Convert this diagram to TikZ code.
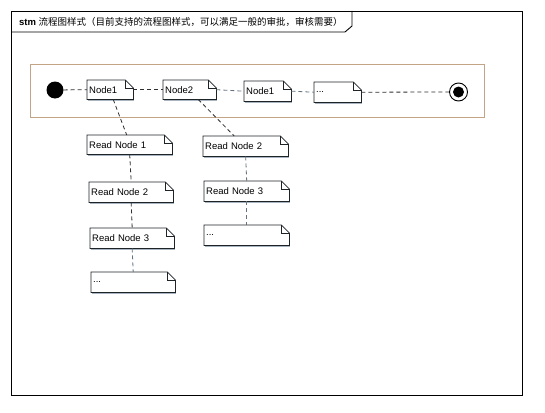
\documentclass[tikz,border=0pt]{standalone}
\usepackage{fontspec}
\setmainfont{Liberation Sans}
\newfontfamily\cjk{Noto Sans CJK SC}
\definecolor{framec}{HTML}{000000}
\definecolor{zonec}{HTML}{C4A486}
\definecolor{notec}{HTML}{1E2328}
\definecolor{shadec}{HTML}{A8B4C0}
\definecolor{darkdash}{HTML}{303030}
\definecolor{lightdash}{HTML}{62727F}
\newcommand\notefont{\fontsize{9.5}{11}\selectfont}
\newcommand\drawnote[1]{%
  \draw[shadec, line width=0.8pt] ([shift={(1pt,-1pt)}]#1.south west) -- ([shift={(1pt,-1pt)}]#1.south east);
  \draw[notec, line width=0.8pt, fill=white] (#1.north west) -- ([xshift=-8pt]#1.north east)
     -- ([yshift=-8pt]#1.north east) -- (#1.south east) -- (#1.south west) -- cycle;
  \draw[notec, line width=0.6pt] ([xshift=-8pt]#1.north east) -- ([xshift=-8pt,yshift=-8pt]#1.north east)
     -- ([yshift=-8pt]#1.north east);
}
\tikzset{
  note/.style 2 args={rectangle, anchor=north west, inner xsep=2pt, inner ysep=0pt,
    minimum width=#1pt, minimum height=#2pt,
    /utils/exec={\pgfmathsetmacro\notetw{#1-4}},
    text width=\notetw pt, align=left, font=\notefont,
    append after command={\pgfextra{\drawnote{\tikzlastnode}}}},
  flow/.style={dashed, dash pattern=on 4pt off 3pt, line width=0.8pt},
  fdark/.style={flow, darkdash},
  flight/.style={flow, lightdash},
}
\begin{document}
\begin{tikzpicture}[x=1pt,y=-1pt]
\useasboundingbox[fill=white] (0,0) rectangle (545,412);
% outer frame
\draw[framec, line width=0.9pt] (11,11) rectangle (522,395);
\draw[framec, line width=0.9pt] (11,32) -- (345,32) -- (352,26) -- (352,11);
\node[anchor=base west, inner sep=0pt, font=\fontsize{9.5}{11}\selectfont] (title) at (19,25.5)
  {\textbf{stm} {\cjk 流程图样式（目前支持的流程图样式，可以满足一般的审批，审核需要）}};
% zone
\draw[zonec, line width=1pt] (30,64) rectangle (484,117);
% states
\node[circle, fill=black, minimum size=17pt, inner sep=0pt] (init) at (55,90) {};
\node[circle, draw=black, line width=0.9pt, fill=white, minimum size=18pt, inner sep=0pt] (final) at (458.5,92) {};
\node[circle, fill=black, minimum size=11pt, inner sep=0pt] (finalin) at (458.5,92) {};
% main nodes
\node[note={46}{19}] (n1) at (87,80) {Node1};
\node[note={53}{19}] (n2) at (163,80) {Node2};
\node[note={47}{20}] (n3) at (244,81) {Node1};
\node[note={47}{20}] (n4) at (314,82) {...};
% left column
\node[note={85}{19}] (a1) at (87,135) {Read Node 1};
\node[note={84}{20}] (a2) at (89,182) {Read Node 2};
\node[note={84}{20}] (a3) at (90,228) {Read Node 3};
\node[note={84}{20}] (a4) at (91,272) {...};
% right column
\node[note={85}{20}] (b1) at (203,136) {Read Node 2};
\node[note={85}{20}] (b2) at (204,181) {Read Node 3};
\node[note={85}{20}] (b3) at (204,225) {...};
% connectors
\draw[fdark] (init) -- (n1.west);
\draw[fdark] (n1.east) -- (n2.west);
\draw[flight] (n2.east) -- (n3.west);
\draw[flight] (n3.east) -- (n4.west);
\draw[fdark] (n4.east) -- (final);
\draw[fdark] ([xshift=3pt]n1.south) -- ([xshift=-3pt]a1.north);
\draw[fdark] ([xshift=8.5pt]n2.south) -- ([xshift=-11.5pt]b1.north);
\draw[fdark] (a1.south) -- (a2.north);
\draw[fdark] (a2.south) -- (a3.north);
\draw[flight] (a3.south) -- (a4.north);
\draw[flight] (b1.south) -- (b2.north);
\draw[flight] (b2.south) -- (b3.north);
\end{tikzpicture}
\end{document}
